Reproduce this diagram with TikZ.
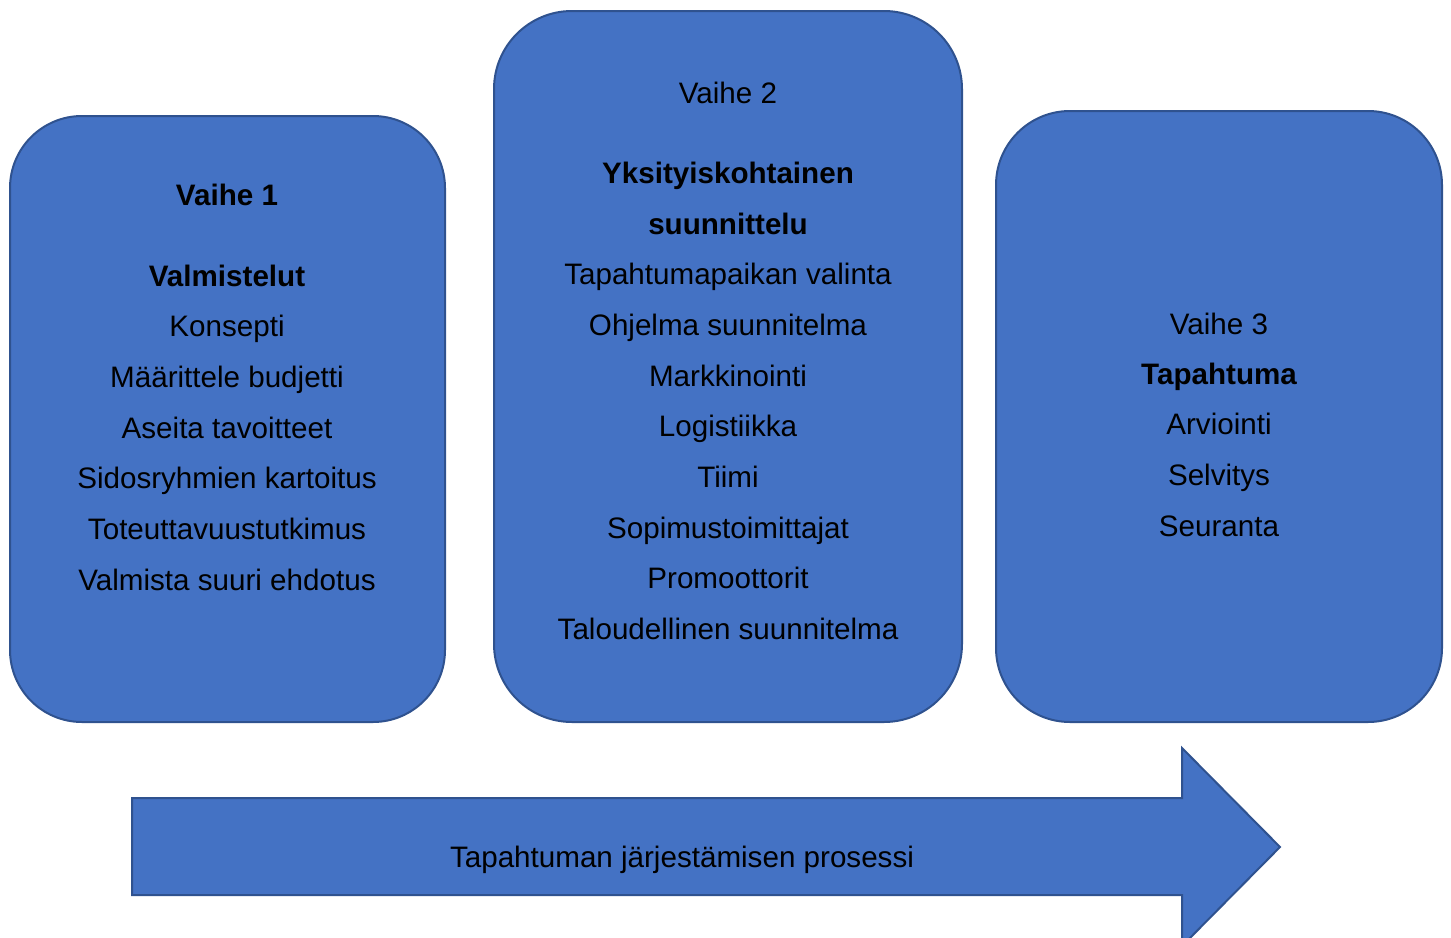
\documentclass[tikz,border=0pt]{standalone}
\usepackage{fontspec}
\setmainfont{Liberation Sans}
\definecolor{boxfill}{HTML}{4472C4}
\definecolor{boxedge}{HTML}{2F528F}
\begin{document}
\begin{tikzpicture}[x=1pt,y=-1pt,
  phasebox/.style={draw=boxedge, line width=2pt, fill=boxfill, inner sep=0pt},
  txt/.style={anchor=base, inner sep=0pt, text=black, font=\fontsize{29.6}{35}\selectfont},
  btxt/.style={txt, font=\fontsize{29.6}{35}\selectfont\bfseries}]
\useasboundingbox (0,0) rectangle (1451,937);
\clip (0,0) rectangle (1451,937);
% phase boxes
\node[phasebox, minimum width=435pt, minimum height=606pt, rounded corners=72pt] (b1) at (227.5,419) {};
\node[phasebox, minimum width=468pt, minimum height=711pt, rounded corners=78pt] (b2) at (728,366.5) {};
\node[phasebox, minimum width=446pt, minimum height=611pt, rounded corners=74pt] (b3) at (1219,416.5) {};
% process arrow
\draw[draw=boxedge, line width=2pt, fill=boxfill, line join=miter]
  (132,798) -- (1182,798) -- (1182,748) -- (1280,847) -- (1182,946) -- (1182,895) -- (132,895) -- cycle;
\node[txt] (arrowtext) at (682,867) {Tapahtuman järjestämisen prosessi};
% box 1 texts
\node[btxt] (v1) at (227,205) {Vaihe 1};
\node[btxt] (v1t) at (227,286) {Valmistelut};
\foreach \t [count=\i] in {Konsepti,Määrittele budjetti,Aseita tavoitteet,Sidosryhmien kartoitus,Toteuttavuustutkimus,Valmista suuri ehdotus}
  \node[txt] (a\i) at (227,{286+50.7*\i}) {\t};
% box 2 texts
\node[txt] (v2) at (728,103) {Vaihe 2};
\node[btxt] (v2t) at (728,183) {Yksityiskohtainen};
\node[btxt] (v2u) at (728,234) {suunnittelu};
\foreach \t [count=\i] in {Tapahtumapaikan valinta,Ohjelma suunnitelma,Markkinointi,Logistiikka,Tiimi,Sopimustoimittajat,Promoottorit,Taloudellinen suunnitelma}
  \node[txt] (c\i) at (728,{234+50.7*\i}) {\t};
% box 3 texts
\node[txt] (v3) at (1219,334) {Vaihe 3};
\node[btxt] (v3t) at (1219,384) {Tapahtuma};
\foreach \t [count=\i] in {Arviointi,Selvitys,Seuranta}
  \node[txt] (e\i) at (1219,{384+50.7*\i}) {\t};
\end{tikzpicture}
\end{document}
